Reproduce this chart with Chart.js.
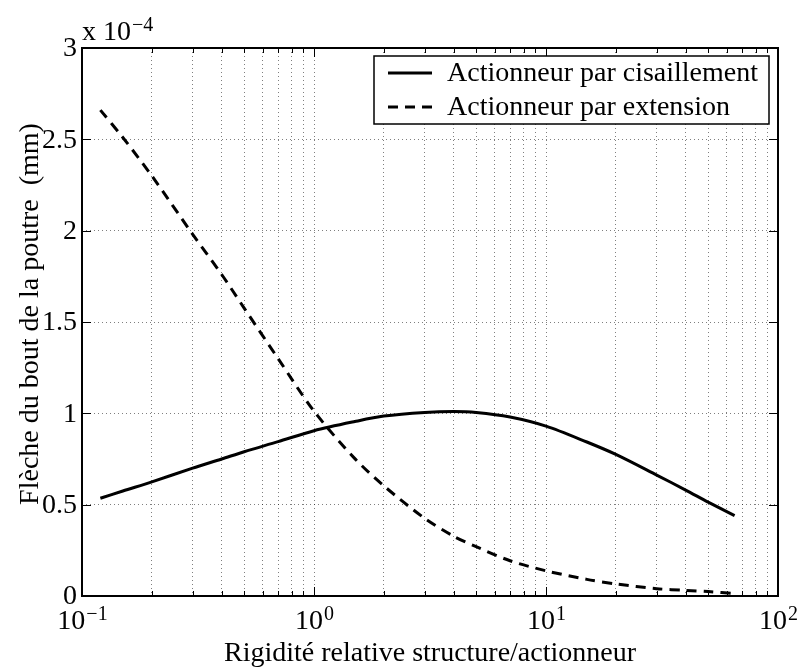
<!DOCTYPE html>
<html>
<head>
<meta charset="utf-8">
<script src="https://cdn.jsdelivr.net/npm/chart.js@4.4.0/dist/chart.umd.min.js"></script>
<style>
html, body { margin: 0; padding: 0; background: #fff; }
#wrap { width: 798px; height: 671px; }
</style>
</head>
<body>
<div id="wrap"><canvas id="c" width="798" height="671"></canvas></div>
<script>
// relative stiffness structure/actuator (log axis)
var rigidity = [0.12, 0.15, 0.2, 0.3, 0.4, 0.5, 0.7, 1, 1.5, 2, 3, 4, 5, 7, 10, 15, 20, 30, 40, 50, 65];
// tip deflection, in units of 1e-4 mm
var shearDeflection = [0.535, 0.575, 0.625, 0.70, 0.75, 0.79, 0.845, 0.905, 0.955, 0.985, 1.005, 1.01, 1.005, 0.98, 0.93, 0.843, 0.775, 0.662, 0.58, 0.514, 0.44];
var extensionDeflection = [2.66, 2.51, 2.30, 1.98, 1.76, 1.576, 1.30, 1.012, 0.752, 0.603, 0.425, 0.327, 0.27, 0.193, 0.138, 0.091, 0.066, 0.04, 0.031, 0.024, 0.013];

var seriesNames = ['Actionneur par cisaillement', 'Actionneur par extension'];
var yTicks = [0, 0.5, 1, 1.5, 2, 2.5, 3];
var decades = [0.1, 1, 10, 100];
var decadeExp = ['\u22121', '0', '1', '2'];
var yMultiplier = '\u22124';
var xTitle = 'Rigidit\u00e9 relative structure/actionneur';
var yTitle = 'Fl\u00e8che du bout de la poutre  (mm)';

var SERIF = '"Liberation Serif", "Times New Roman", serif';
var FONT = '28px ' + SERIF;
var SUP = '20px ' + SERIF;
var DASH = [10, 7];

function toPoints(xs, ys) {
    return xs.map(function (x, i) { return { x: x, y: ys[i] }; });
}

function line(ctx, x1, y1, x2, y2) {
    ctx.beginPath();
    ctx.moveTo(x1, y1);
    ctx.lineTo(x2, y2);
    ctx.stroke();
}

// text with a raised exponent, e.g. 10^-1
function drawPower(ctx, base, exp, x, y, align) {
    ctx.font = FONT;
    var wb = ctx.measureText(base).width;
    ctx.font = SUP;
    var we = ctx.measureText(exp).width;
    var start = align === 'center' ? x - (wb + we) / 2 : x;
    ctx.textAlign = 'left';
    ctx.textBaseline = 'alphabetic';
    ctx.font = FONT;
    ctx.fillText(base, start, y);
    ctx.font = SUP;
    ctx.fillText(exp, start + wb + 1, y - 9);
}

var matlabAxes = {
    id: 'matlabAxes',
    afterDatasetsDraw: function (chart) {
        var ctx = chart.ctx;
        var a = chart.chartArea;
        var xs = chart.scales.x;
        var ys = chart.scales.y;
        ctx.save();
        ctx.strokeStyle = '#000';
        ctx.fillStyle = '#000';

        // inward tick marks on all four sides
        ctx.lineWidth = 1;
        xs.ticks.forEach(function (t) {
            var px = Math.round(xs.getPixelForValue(t.value)) + 0.5;
            var len = t.major ? 9 : 5;
            line(ctx, px, a.bottom, px, a.bottom - len);
            line(ctx, px, a.top, px, a.top + len);
        });
        yTicks.forEach(function (v) {
            var py = Math.round(ys.getPixelForValue(v)) + 0.5;
            line(ctx, a.left, py, a.left + 9, py);
            line(ctx, a.right, py, a.right - 9, py);
        });

        // axes box
        ctx.lineWidth = 2;
        ctx.strokeRect(a.left, a.top, a.right - a.left, a.bottom - a.top);

        // y tick labels
        ctx.font = FONT;
        ctx.textAlign = 'right';
        ctx.textBaseline = 'middle';
        yTicks.forEach(function (v) {
            ctx.fillText(String(v), a.left - 5, ys.getPixelForValue(v) + 1);
        });
        drawPower(ctx, 'x 10', yMultiplier, a.left, a.top - 8, 'left');

        // x tick labels
        decades.forEach(function (d, i) {
            drawPower(ctx, '10', decadeExp[i], xs.getPixelForValue(d), a.bottom + 33, 'center');
        });

        // axis titles
        ctx.font = FONT;
        ctx.textAlign = 'center';
        ctx.textBaseline = 'alphabetic';
        ctx.fillText(xTitle, (a.left + a.right) / 2, 661);
        ctx.save();
        ctx.translate(31, (a.top + a.bottom) / 2 - 8);
        ctx.rotate(-Math.PI / 2);
        ctx.textBaseline = 'middle';
        ctx.fillText(yTitle, 0, 0);
        ctx.restore();

        // legend
        var lx = 374, ly = 56, lw = 395, lh = 68;
        ctx.fillStyle = '#fff';
        ctx.fillRect(lx, ly, lw, lh);
        ctx.lineWidth = 1.5;
        ctx.strokeStyle = '#000';
        ctx.strokeRect(lx, ly, lw, lh);
        ctx.fillStyle = '#000';
        ctx.font = FONT;
        ctx.textAlign = 'left';
        ctx.textBaseline = 'middle';
        chart.data.datasets.forEach(function (ds, i) {
            var yy = ly + 17 + i * 34;
            ctx.lineWidth = ds.borderWidth;
            ctx.setLineDash(ds.borderDash || []);
            line(ctx, lx + 14, yy, lx + 58, yy);
            ctx.setLineDash([]);
            ctx.fillText(ds.label, lx + 73, yy + 1);
        });
        ctx.restore();
    }
};

new Chart(document.getElementById('c'), {
    type: 'line',
    data: {
        datasets: [{
            label: seriesNames[0],
            data: toPoints(rigidity, shearDeflection),
            borderColor: '#000',
            borderWidth: 3,
            pointRadius: 0,
            tension: 0.3,
            fill: false
        }, {
            label: seriesNames[1],
            data: toPoints(rigidity, extensionDeflection),
            borderColor: '#000',
            borderWidth: 3,
            borderDash: DASH,
            pointRadius: 0,
            tension: 0.3,
            fill: false
        }]
    },
    options: {
        responsive: false,
        animation: false,
        devicePixelRatio: 1,
        layout: { padding: { top: 48, right: 20, left: 0, bottom: 0 } },
        plugins: { legend: { display: false }, tooltip: { enabled: false } },
        scales: {
            x: {
                type: 'logarithmic',
                min: 0.1,
                max: 100,
                afterBuildTicks: function (scale) {
                    var ticks = [];
                    for (var i = 0; i < decades.length - 1; i++) {
                        for (var k = 1; k <= 9; k++) {
                            ticks.push({ value: decades[i] * k, major: k === 1 });
                        }
                    }
                    ticks.push({ value: decades[decades.length - 1], major: true });
                    scale.ticks = ticks;
                },
                afterFit: function (scale) { scale.height = 75; },
                ticks: { display: false },
                grid: { color: 'rgba(0,0,0,0.5)', lineWidth: 1, drawTicks: false },
                border: { display: false, dash: [1, 3] }
            },
            y: {
                type: 'linear',
                min: 0,
                max: 3,
                afterBuildTicks: function (scale) {
                    scale.ticks = yTicks.map(function (v) { return { value: v }; });
                },
                afterFit: function (scale) { scale.width = 82; },
                ticks: { display: false },
                grid: { color: 'rgba(0,0,0,0.5)', lineWidth: 1, drawTicks: false },
                border: { display: false, dash: [1, 3] }
            }
        }
    },
    plugins: [matlabAxes]
});
</script>
</body>
</html>
